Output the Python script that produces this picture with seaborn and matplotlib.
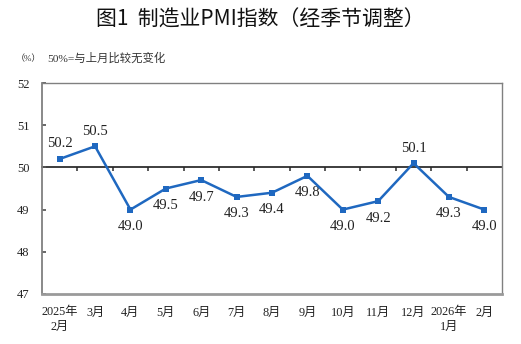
import matplotlib
matplotlib.use("Agg")
import matplotlib.pyplot as plt
import seaborn as sns
import pandas as pd

months = ["2025年\n2月", "3月", "4月", "5月", "6月", "7月", "8月", "9月",
          "10月", "11月", "12月", "2026年\n1月", "2月"]
pmi = [50.2, 50.5, 49.0, 49.5, 49.7, 49.3, 49.4, 49.8, 49.0, 49.2, 50.1, 49.3, 49.0]
label_above = [True, True, False, False, False, False, False, False, False, False, True, False, False]
y_ticks = [47, 48, 49, 50, 51, 52]

sns.set_theme(style="white")
serif_cjk = ["Liberation Serif", "Noto Sans CJK SC", "DejaVu Sans"]
plt.rcParams["font.family"] = serif_cjk

df = pd.DataFrame({"idx": range(len(months)), "pmi": pmi})

fig = plt.figure(figsize=(5.21, 3.44), dpi=100)
ax = fig.add_axes([42 / 521, 1 - 294 / 344, 460 / 521, 211 / 344])

blue = "#1f68c0"
sns.lineplot(data=df, x="idx", y="pmi", ax=ax, color=blue, linewidth=1.8,
             marker="s", markersize=5, markeredgewidth=0, zorder=5)

ax.set_xlim(-0.5, len(months) - 0.5)
ax.set_ylim(47, 52)
ax.set_yticks(y_ticks)
ax.set_yticklabels([str(v) for v in y_ticks], fontsize=9, color="#222222")
ax.set_xticks(range(len(months)))
ax.set_xticklabels(months, fontsize=8.8, color="#222222", linespacing=1.25)
ax.tick_params(axis="x", length=0, pad=9)
ax.tick_params(axis="y", direction="in", length=3, pad=9, color="#555555", left=True)
ax.set_xlabel("")
ax.set_ylabel("")

for side in ["top", "right"]:
    ax.spines[side].set_color("#808080")
    ax.spines[side].set_linewidth(1.0)
ax.spines["left"].set_color("#808080")
ax.spines["left"].set_linewidth(1.3)
ax.spines["bottom"].set_color("#9a9a9a")
ax.spines["bottom"].set_linewidth(2.0)

# 50 reference axis with category boundary ticks
sec = ax.secondary_xaxis((50 - 47) / (52 - 47))
sec.set_xticks([i + 0.5 for i in range(len(months) - 1)])
sec.xaxis.set_ticklabels([])
sec.tick_params(direction="in", length=3, color="#444444")
sec.spines["bottom"].set_color("#444444")
sec.spines["bottom"].set_linewidth(1.0)

for i, (v, up) in enumerate(zip(pmi, label_above)):
    ax.annotate(f"{v:.1f}", (i, v), xytext=(0, 15 if up else -17),
                textcoords="offset pixels",
                ha="center", va="center", fontsize=10.5, color="#222222",
                family=serif_cjk)

fig.text(0.5, 1 - 20 / 344, "图1  制造业PMI指数（经季节调整）", ha="center", va="center",
         fontsize=15, fontweight="medium", color="#111111",
         family=["Noto Sans CJK SC", "DejaVu Sans"])
fig.text(16 / 521, 1 - 59 / 344, "（%）", ha="left", va="center", fontsize=6.5,
         color="#333333", family=serif_cjk)
fig.text(47 / 521, 1 - 58 / 344, "50%=与上月比较无变化", ha="left", va="center",
         fontsize=8.2, color="#333333", family=serif_cjk)

fig.savefig("out.png", dpi=100)
